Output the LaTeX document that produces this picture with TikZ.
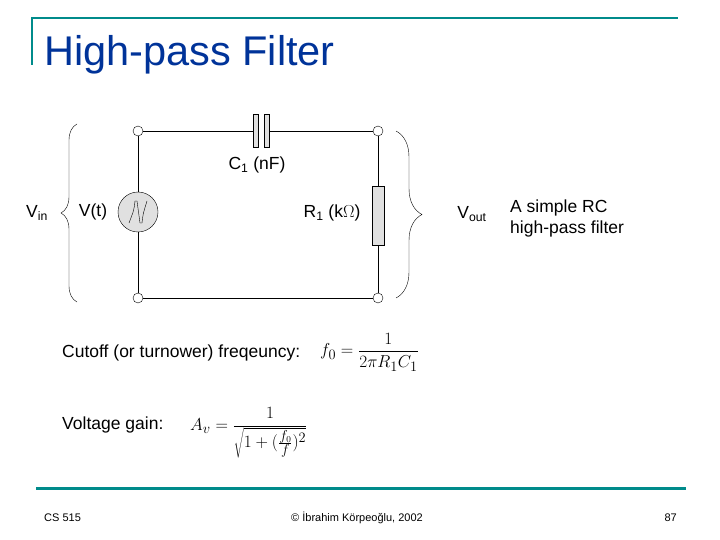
\documentclass[tikz,border=0pt]{standalone}
\usepackage{fontspec}
\setmainfont{Liberation Sans}
\usetikzlibrary{decorations.pathreplacing}
\definecolor{teal}{RGB}{0,139,139}
\definecolor{navy}{RGB}{0,51,153}
\definecolor{part}{RGB}{224,224,224}
\begin{document}
\begin{tikzpicture}[x=1pt,y=-1pt,
  term/.style={circle,draw,fill=white,inner sep=0pt,minimum size=10pt},
  lbl/.style={font=\fontsize{17.5}{21}\selectfont,inner sep=0pt},
  mth/.style={font=\fontsize{19}{22}\selectfont,inner sep=0pt,anchor=west},
  foot/.style={font=\fontsize{11}{13}\selectfont,inner sep=0pt},
  plate/.style={draw,fill=part,inner sep=0pt,minimum width=5pt,minimum height=33pt}]
\useasboundingbox (0,0) rectangle (720,540);
% slide frame
\draw[teal,line width=2pt] (32,65) -- (32,18) -- (678,18);
\draw[teal,line width=3pt] (36,488) -- (686,488);
\node[navy,anchor=base west,inner sep=0pt,font=\fontsize{41.5}{44}\selectfont] (title) at (44,66) {High-pass Filter};

% circuit
\node[term] (tl) at (138,131) {};
\node[term] (tr) at (378,131) {};
\node[term] (bl) at (138,298) {};
\node[term] (br) at (378,298) {};
\node[plate] (c1a) at (255.5,131) {};
\node[plate] (c1b) at (266.5,131) {};
\node[circle,draw,fill=part,minimum size=40pt,inner sep=0pt] (src) at (138,212) {};
\draw (129,223) .. controls (134,210) .. (135,201) -- (137,201) -- (140,223) -- (142,223) .. controls (143,214) .. (147,201);
\node[draw,fill=part,minimum width=12pt,minimum height=59pt,inner sep=0pt] (r1) at (378,215.5) {};
\draw (tl) -- (c1a.west);
\draw (c1b.east) -- (tr);
\draw (tl) -- (src);
\draw (src) -- (bl);
\draw (tr) -- (r1);
\draw (r1) -- (br);
\draw (bl) -- (br);

\node[lbl] (c1l) at (257,165) {C\textsubscript{1} (nF)};
\node[lbl] (vtl) at (93,212) {V(t)};
\node[lbl] (r1l) at (332,213) {R\textsubscript{1} (k$\Omega$)};
\node[lbl] (vin) at (37,213) {V\textsubscript{in}};
\node[lbl] (vout) at (472,214) {V\textsubscript{out}};
\node[lbl,align=left,anchor=west] (cap) at (510,218) {A simple RC\\high-pass filter};

\coordinate (lb1) at (77,302);
\coordinate (lb2) at (77,124);
\coordinate (rb1) at (396,131);
\coordinate (rb2) at (396,298);
\draw[decorate,decoration={brace,amplitude=16pt}] (lb1) -- (lb2);
\draw[decorate,decoration={brace,amplitude=26pt}] (rb1) -- (rb2);

% formulas
\node[lbl,anchor=base west] (cut) at (62,357) {Cutoff (or turnower) freqeuncy:};
\node[mth] (f0) at (320,352) {$\displaystyle f_0=\frac{1}{2\pi R_1C_1}$};
\node[lbl,anchor=base west] (gain) at (62,429) {Voltage gain:};
\node[mth] (av) at (190,433) {$\displaystyle A_v=\frac{1}{\sqrt{1+(\frac{f_0}{f})^2}}$};

% footer
\node[foot,anchor=base west] (cs) at (44,521) {CS 515};
\node[foot,anchor=base] (copy) at (357,521) {© İbrahim Körpeoğlu, 2002};
\node[foot,anchor=base east] (pg) at (677,521) {87};
\end{tikzpicture}
\end{document}
